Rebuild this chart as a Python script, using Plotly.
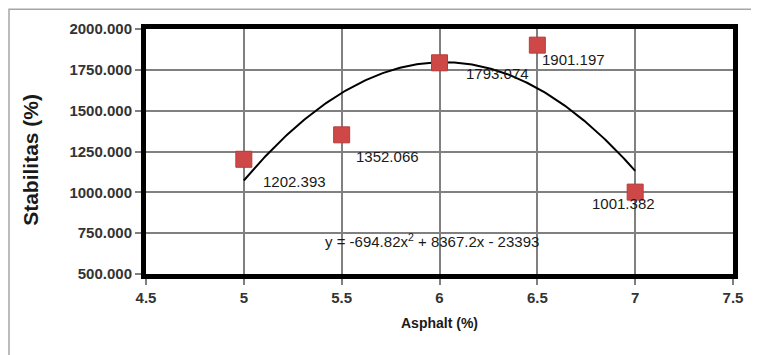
import numpy as np
import plotly.graph_objects as go

asphalt = [5.0, 5.5, 6.0, 6.5, 7.0]
stabilitas = [1202.393, 1352.066, 1793.074, 1901.197, 1001.382]
label_text = ["1202.393", "1352.066", "1793.074", "1901.197", "1001.382"]
# quadratic trendline coefficients as displayed on the chart (a, b, c)
trend_coef = [-694.82, 8367.2, -23393.0]
equation_text = "y = -694.82x<sup>2</sup> + 8367.2x - 23393"
x_ticks = [4.5, 5, 5.5, 6, 6.5, 7, 7.5]
x_tick_labels = ["4.5", "5", "5.5", "6", "6.5", "7", "7.5"]
y_ticks = [500, 750, 1000, 1250, 1500, 1750, 2000]

# label pixel offsets (style)
label_shift = [(51, -22), (46, -22), (58, -11), (36, -14), (-12, -11)]

W, H = 759, 355
OX, OY = 8, 8  # page body margin
# target plot area in screen pixels
PX0, PX1, PY0, PY1 = 146, 733, 25, 274
L = PX0 - OX
R = W - (PX1 - OX)
T = PY0 - OY
B = H - (PY1 - OY)
pw = PX1 - PX0
ph = PY1 - PY0


def px_to_paper_x(px):
    return (px - PX0) / pw


def py_to_paper_y(py):
    return (PY1 - py) / ph


xs = np.linspace(min(asphalt), max(asphalt), 200)
ys = trend_coef[0] * xs**2 + trend_coef[1] * xs + trend_coef[2]

fig = go.Figure()
fig.add_trace(go.Scatter(x=xs, y=ys, mode="lines",
                         line=dict(color="black", width=2), hoverinfo="skip"))
fig.add_trace(go.Scatter(x=asphalt, y=stabilitas, mode="markers",
                         marker=dict(symbol="square", size=16, color="#cf4848",
                                     line=dict(color="#b83c3c", width=1))))

font_main = "Liberation Sans"
annotations = []
for xv, yv, t, (dx, dy) in zip(asphalt, stabilitas, label_text, label_shift):
    annotations.append(dict(x=xv, y=yv, xref="x", yref="y", text=t, showarrow=False,
                            xshift=dx, yshift=dy, xanchor="center", yanchor="middle",
                            font=dict(family=font_main, size=15, color="#1a1a1a")))
annotations.append(dict(x=5.96, y=705, xref="x", yref="y", text=equation_text,
                        showarrow=False, xanchor="center", yanchor="middle",
                        font=dict(family=font_main, size=15, color="#1a1a1a")))
annotations.append(dict(x=px_to_paper_x(31), y=py_to_paper_y(158), xref="paper", yref="paper",
                        text="<b>Stabilitas (%)</b>", textangle=-90, showarrow=False,
                        xanchor="center", yanchor="middle",
                        font=dict(family=font_main, size=21, color="#1a1a1a")))
annotations.append(dict(x=0.5, y=py_to_paper_y(324), xref="paper", yref="paper",
                        text="<b>Asphalt (%)</b>", showarrow=False,
                        xanchor="center", yanchor="middle",
                        font=dict(family=font_main, size=14, color="#1a1a1a")))

fig.update_layout(
    width=W, height=H,
    margin=dict(l=L, r=R, t=T, b=B),
    paper_bgcolor="white", plot_bgcolor="white",
    showlegend=False,
    annotations=annotations,
    shapes=[dict(type="rect", xref="paper", yref="paper",
                 x0=px_to_paper_x(9), x1=1.3, y0=-0.8, y1=py_to_paper_y(5),
                 line=dict(color="#a6a6a6", width=1.5), layer="below")],
)
fig.update_xaxes(range=[4.5, 7.5], tickvals=x_ticks, ticktext=x_tick_labels,
                 showgrid=True, gridcolor="#808080", gridwidth=1.5,
                 showline=True, linecolor="black", linewidth=5, mirror=True,
                 ticks="outside", ticklen=6, tickcolor="#808080", tickwidth=1.5,
                 zeroline=False,
                 tickfont=dict(family=font_main, size=15, color="#333333", weight="bold"))
fig.update_yaxes(range=[500, 2000], tickvals=y_ticks, tickformat=".3f",
                 showgrid=True, gridcolor="#808080", gridwidth=1.5,
                 showline=True, linecolor="black", linewidth=5, mirror=True,
                 ticks="outside", ticklen=6, tickcolor="#808080", tickwidth=1.5,
                 zeroline=False,
                 tickfont=dict(family=font_main, size=15, color="#333333", weight="bold"))

fig.write_html("out.html")
